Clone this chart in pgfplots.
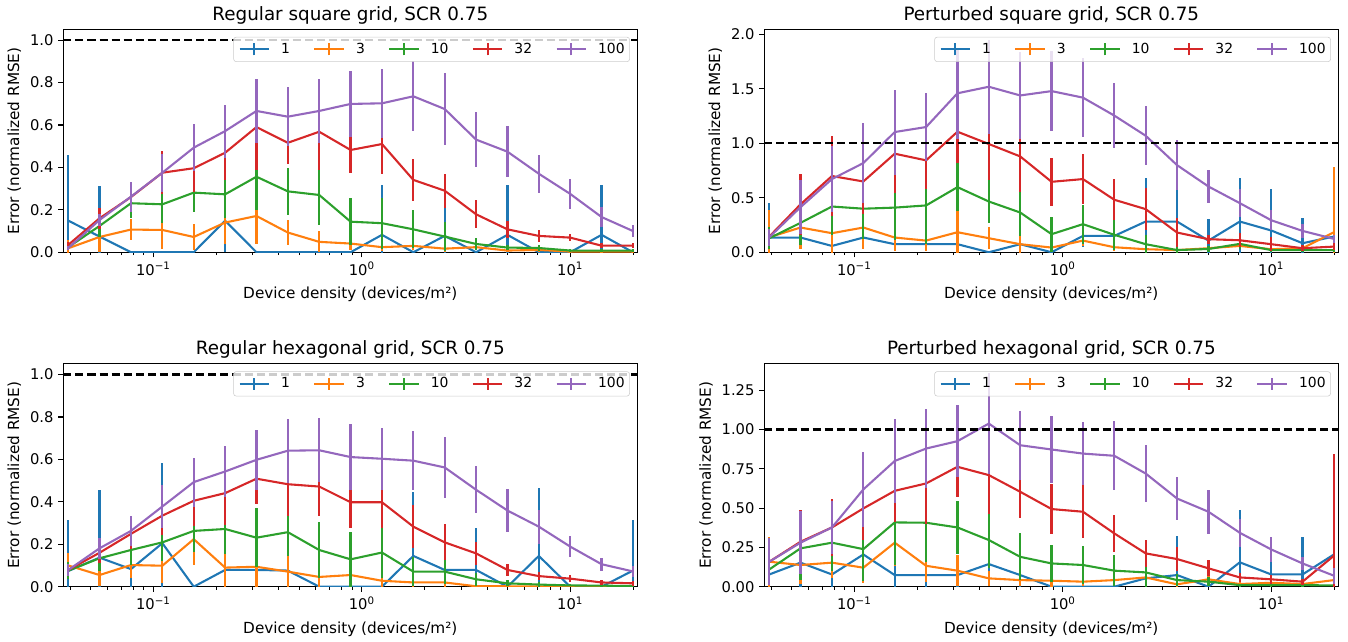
\documentclass[border=0pt]{standalone}
\usepackage{pgfplots}
\usepackage{pgfplotstable}
\pgfplotsset{compat=1.18}
\usepackage{fontspec}
\setmainfont{DejaVu Sans}
\definecolor{c0}{HTML}{1F77B4}
\definecolor{c1}{HTML}{FF7F0E}
\definecolor{c2}{HTML}{2CA02C}
\definecolor{c3}{HTML}{D62728}
\definecolor{c4}{HTML}{9467BD}

% Regular square grid
\pgfplotstableread{
x a ea b eb c ec d ed e ee
0.0391 0.149 0.31 0.019 0.04 0.024 0.01 0.035 0.012 0.020 0.010
0.0552 0.074 0.24 0.072 0.07 0.124 0.05 0.160 0.050 0.152 0.030
0.0781 0.000 0.00 0.107 0.05 0.231 0.07 0.260 0.070 0.262 0.070
0.1105 0.000 0.00 0.105 0.09 0.226 0.09 0.375 0.100 0.375 0.090
0.1563 0.000 0.00 0.072 0.06 0.281 0.09 0.396 0.110 0.493 0.110
0.2210 0.149 0.15 0.140 0.10 0.273 0.11 0.469 0.130 0.571 0.125
0.3125 0.000 0.00 0.171 0.13 0.356 0.155 0.590 0.200 0.666 0.150
0.4419 0.000 0.00 0.093 0.06 0.287 0.11 0.516 0.100 0.639 0.140
0.6250 0.000 0.00 0.049 0.05 0.270 0.14 0.568 0.180 0.666 0.150
0.8839 0.000 0.00 0.041 0.03 0.144 0.11 0.482 0.107 0.699 0.156
1.2500 0.082 0.235 0.024 0.02 0.137 0.12 0.510 0.140 0.702 0.163
1.7678 0.000 0.00 0.030 0.02 0.108 0.09 0.341 0.100 0.735 0.165
2.5000 0.077 0.14 0.017 0.015 0.074 0.07 0.290 0.080 0.675 0.170
3.5355 0.000 0.00 0.024 0.015 0.039 0.03 0.179 0.065 0.531 0.130
5.0000 0.082 0.235 0.008 0.008 0.022 0.013 0.108 0.040 0.474 0.120
7.0711 0.000 0.00 0.011 0.008 0.020 0.012 0.077 0.030 0.370 0.090
10.000 0.000 0.00 0.003 0.003 0.008 0.005 0.069 0.015 0.275 0.070
14.142 0.082 0.235 0.003 0.003 0.008 0.005 0.031 0.012 0.166 0.045
20.000 0.000 0.00 0.003 0.003 0.008 0.005 0.031 0.012 0.100 0.030
}\tabA

% Perturbed square grid
\pgfplotstableread{
x a ea b eb c ec d ed e ee
0.0391 0.135 0.32 0.138 0.25 0.129 0.10 0.144 0.05 0.138 0.08
0.0552 0.135 0.10 0.227 0.20 0.270 0.20 0.440 0.28 0.414 0.25
0.0781 0.058 0.05 0.175 0.20 0.420 0.26 0.700 0.37 0.672 0.30
0.1105 0.135 0.10 0.227 0.20 0.400 0.28 0.650 0.30 0.819 0.37
0.1563 0.074 0.06 0.135 0.12 0.410 0.30 0.905 0.36 1.104 0.39
0.2210 0.074 0.06 0.107 0.10 0.430 0.35 0.844 0.26 1.150 0.31
0.3125 0.074 0.06 0.184 0.20 0.598 0.22 1.107 0.29 1.460 0.42
0.4419 0.000 0.00 0.129 0.10 0.466 0.20 0.994 0.33 1.520 0.43
0.6250 0.074 0.08 0.074 0.08 0.365 0.22 0.880 0.33 1.440 0.40
0.8839 0.000 0.00 0.043 0.04 0.166 0.16 0.647 0.22 1.480 0.37
1.2500 0.150 0.10 0.107 0.05 0.258 0.18 0.672 0.23 1.420 0.36
1.7678 0.150 0.10 0.046 0.03 0.160 0.14 0.482 0.19 1.255 0.30
2.5000 0.282 0.40 0.028 0.02 0.074 0.08 0.396 0.19 1.070 0.27
3.5355 0.282 0.40 0.020 0.02 0.020 0.03 0.181 0.13 0.800 0.23
5.0000 0.107 0.20 0.037 0.02 0.030 0.03 0.120 0.04 0.604 0.15
7.0711 0.282 0.40 0.058 0.03 0.077 0.05 0.110 0.065 0.451 0.13
10.000 0.200 0.38 0.028 0.02 0.020 0.02 0.074 0.065 0.294 0.09
14.142 0.083 0.23 0.037 0.02 0.020 0.02 0.037 0.03 0.196 0.065
20.000 0.144 0.10 0.184 0.60 0.020 0.02 0.052 0.03 0.123 0.04
}\tabB

% Regular hexagonal grid
\pgfplotstableread{
x a ea b eb c ec d ed e ee
0.0391 0.074 0.24 0.100 0.06 0.076 0.04 0.079 0.03 0.079 0.03
0.0552 0.137 0.32 0.055 0.05 0.134 0.06 0.160 0.05 0.181 0.05
0.0781 0.083 0.10 0.102 0.06 0.173 0.07 0.249 0.07 0.263 0.07
0.1105 0.205 0.38 0.099 0.08 0.209 0.09 0.335 0.09 0.378 0.10
0.1563 0.000 0.00 0.224 0.12 0.263 0.10 0.405 0.12 0.493 0.115
0.2210 0.079 0.10 0.090 0.09 0.272 0.12 0.441 0.15 0.543 0.12
0.3125 0.079 0.10 0.094 0.10 0.231 0.14 0.509 0.12 0.598 0.14
0.4419 0.076 0.10 0.071 0.10 0.257 0.11 0.483 0.15 0.641 0.15
0.6250 0.000 0.00 0.046 0.05 0.173 0.13 0.472 0.14 0.643 0.15
0.8839 0.000 0.00 0.055 0.05 0.129 0.13 0.398 0.12 0.611 0.155
1.2500 0.000 0.00 0.028 0.03 0.161 0.12 0.398 0.12 0.603 0.145
1.7678 0.145 0.30 0.020 0.02 0.071 0.07 0.283 0.10 0.594 0.14
2.5000 0.079 0.20 0.020 0.02 0.071 0.06 0.209 0.085 0.562 0.145
3.5355 0.079 0.20 0.002 0.002 0.035 0.03 0.157 0.055 0.457 0.11
5.0000 0.000 0.00 0.002 0.002 0.016 0.015 0.079 0.03 0.359 0.10
7.0711 0.145 0.32 0.001 0.001 0.010 0.01 0.050 0.02 0.283 0.08
10.000 0.000 0.00 0.001 0.001 0.006 0.005 0.038 0.015 0.189 0.05
14.142 0.000 0.00 0.001 0.001 0.005 0.005 0.020 0.01 0.106 0.03
20.000 0.076 0.24 0.001 0.001 0.003 0.003 0.016 0.012 0.072 0.025
}\tabC

% Perturbed hexagonal grid
\pgfplotstableread{
x a ea b eb c ec d ed e ee
0.0391 0.078 0.10 0.159 0.16 0.110 0.10 0.159 0.15 0.159 0.15
0.0552 0.153 0.33 0.138 0.12 0.244 0.20 0.286 0.20 0.280 0.20
0.0781 0.078 0.10 0.153 0.10 0.280 0.18 0.377 0.18 0.377 0.17
0.1105 0.205 0.15 0.121 0.10 0.239 0.20 0.498 0.20 0.619 0.24
0.1563 0.074 0.10 0.280 0.15 0.409 0.27 0.610 0.20 0.800 0.27
0.2210 0.074 0.10 0.133 0.10 0.407 0.25 0.657 0.26 0.879 0.25
0.3125 0.074 0.10 0.102 0.10 0.377 0.17 0.763 0.19 0.926 0.23
0.4419 0.144 0.10 0.053 0.05 0.297 0.18 0.710 0.25 1.038 0.32
0.6250 0.074 0.10 0.042 0.04 0.190 0.15 0.604 0.17 0.900 0.22
0.8839 0.000 0.00 0.038 0.04 0.148 0.12 0.494 0.16 0.873 0.21
1.2500 0.000 0.00 0.032 0.03 0.138 0.12 0.477 0.17 0.847 0.20
1.7678 0.000 0.00 0.042 0.04 0.102 0.10 0.339 0.12 0.833 0.22
2.5000 0.053 0.05 0.059 0.05 0.091 0.09 0.212 0.085 0.720 0.18
3.5355 0.074 0.25 0.015 0.02 0.042 0.04 0.176 0.075 0.561 0.135
5.0000 0.000 0.00 0.047 0.03 0.032 0.03 0.117 0.05 0.477 0.14
7.0711 0.155 0.33 0.017 0.02 0.010 0.01 0.059 0.03 0.343 0.09
10.000 0.078 0.24 0.025 0.02 0.010 0.01 0.047 0.03 0.237 0.08
14.142 0.078 0.24 0.017 0.02 0.010 0.01 0.032 0.02 0.148 0.04
20.000 0.205 0.37 0.042 0.03 0.008 0.01 0.197 0.65 0.070 0.05
}\tabD

\pgfplotsset{
  every axis/.append style={
    scale only axis, width=413.3pt, height=160.4pt,
    xmin=0.037, xmax=21, ymin=0,
    xtick pos=bottom, ytick pos=left,
    tick align=outside,
    major tick length=3.6pt, minor tick length=2.1pt,
    every tick/.append style={black, line width=0.8pt},
    every minor tick/.append style={line width=0.6pt},
    axis line style={line width=0.8pt},
    tick label style={font=\fontsize{10.6}{12}\selectfont},
    label style={font=\fontsize{11}{13}\selectfont},
    title style={font=\fontsize{13.2}{15}\selectfont, yshift=-5.5pt},
    xlabel={Device density (devices/m²)},
    ylabel={Error (normalized RMSE)},
    xlabel style={yshift=-1.5pt},
    ylabel style={yshift=-0.5pt},
    legend columns=5,
    legend style={at={(0.987,0.967)}, anchor=north east,
      draw=black!20, fill=white, fill opacity=0.8, text opacity=1,
      rounded corners=2pt, font=\fontsize{10}{12}\selectfont,
      inner xsep=3.6pt, inner ysep=3.8pt,
      nodes={inner sep=0pt},
      /tikz/every odd column/.append style={column sep=8pt},
      /tikz/every even column/.append style={column sep=16.8pt}},
    legend cell align=left,
    legend image code/.code={
      \draw[##1, line width=1.5pt] (0pt,0pt) -- (21.2pt,0pt);
      \draw[##1, line width=1.5pt] (10.6pt,-4.3pt) -- (10.6pt,4.3pt);},
  },
}

\newcommand{\drawseries}[1]{%
  \addplot[c0, mark=none, line width=1.5pt, error bars/y dir=both, error bars/y explicit, error bars/error mark=none, error bars/error bar style={line width=1.6pt}] table[x=x, y=a, y error=ea] {#1};
  \addplot[c1, mark=none, line width=1.5pt, error bars/y dir=both, error bars/y explicit, error bars/error mark=none, error bars/error bar style={line width=1.6pt}] table[x=x, y=b, y error=eb] {#1};
  \addplot[c2, mark=none, line width=1.5pt, error bars/y dir=both, error bars/y explicit, error bars/error mark=none, error bars/error bar style={line width=1.6pt}] table[x=x, y=c, y error=ec] {#1};
  \addplot[c3, mark=none, line width=1.5pt, error bars/y dir=both, error bars/y explicit, error bars/error mark=none, error bars/error bar style={line width=1.6pt}] table[x=x, y=d, y error=ed] {#1};
  \addplot[c4, mark=none, line width=1.5pt, error bars/y dir=both, error bars/y explicit, error bars/error mark=none, error bars/error bar style={line width=1.6pt}] table[x=x, y=e, y error=ee] {#1};
  \addplot[black, line width=1.5pt, dash pattern=on 5.8pt off 2.9pt, forget plot] coordinates {(0.037,1) (21,1)};
  \legend{1,3,10,32,100}
}

\begin{document}
\begin{tikzpicture}
\useasboundingbox (0,0) rectangle (970.56pt,461.52pt);

\begin{semilogxaxis}[at={(45.6pt,279.9pt)}, anchor=south west,
  xtick={0.1,1,10},
  xticklabels={10\textsuperscript{−1},10\textsuperscript{0},10\textsuperscript{1}},
  minor xtick={0.04,0.05,0.06,0.07,0.08,0.09,0.2,0.3,0.4,0.5,0.6,0.7,0.8,0.9,2,3,4,5,6,7,8,9,20},
  title={Regular square grid, SCR 0.75}, ymax=1.05,
  ytick={0,0.2,0.4,0.6,0.8,1.0},
  yticklabels={0.0,0.2,0.4,0.6,0.8,1.0}]
\drawseries{\tabA}
\end{semilogxaxis}

\begin{semilogxaxis}[at={(550.3pt,279.9pt)}, anchor=south west,
  xtick={0.1,1,10},
  xticklabels={10\textsuperscript{−1},10\textsuperscript{0},10\textsuperscript{1}},
  minor xtick={0.04,0.05,0.06,0.07,0.08,0.09,0.2,0.3,0.4,0.5,0.6,0.7,0.8,0.9,2,3,4,5,6,7,8,9,20},
  title={Perturbed square grid, SCR 0.75}, ymax=2.046,
  ytick={0,0.5,1.0,1.5,2.0},
  yticklabels={0.0,0.5,1.0,1.5,2.0}]
\drawseries{\tabB}
\end{semilogxaxis}

\begin{semilogxaxis}[at={(45.6pt,39.1pt)}, anchor=south west,
  xtick={0.1,1,10},
  xticklabels={10\textsuperscript{−1},10\textsuperscript{0},10\textsuperscript{1}},
  minor xtick={0.04,0.05,0.06,0.07,0.08,0.09,0.2,0.3,0.4,0.5,0.6,0.7,0.8,0.9,2,3,4,5,6,7,8,9,20},
  title={Regular hexagonal grid, SCR 0.75}, ymax=1.05,
  ytick={0,0.2,0.4,0.6,0.8,1.0},
  yticklabels={0.0,0.2,0.4,0.6,0.8,1.0}]
\drawseries{\tabC}
\end{semilogxaxis}

\begin{semilogxaxis}[at={(550.3pt,39.1pt)}, anchor=south west,
  xtick={0.1,1,10},
  xticklabels={10\textsuperscript{−1},10\textsuperscript{0},10\textsuperscript{1}},
  minor xtick={0.04,0.05,0.06,0.07,0.08,0.09,0.2,0.3,0.4,0.5,0.6,0.7,0.8,0.9,2,3,4,5,6,7,8,9,20},
  title={Perturbed hexagonal grid, SCR 0.75}, ymax=1.4175,
  ytick={0,0.25,0.5,0.75,1.0,1.25},
  yticklabels={0.00,0.25,0.50,0.75,1.00,1.25}]
\drawseries{\tabD}
\end{semilogxaxis}
\end{tikzpicture}
\end{document}
